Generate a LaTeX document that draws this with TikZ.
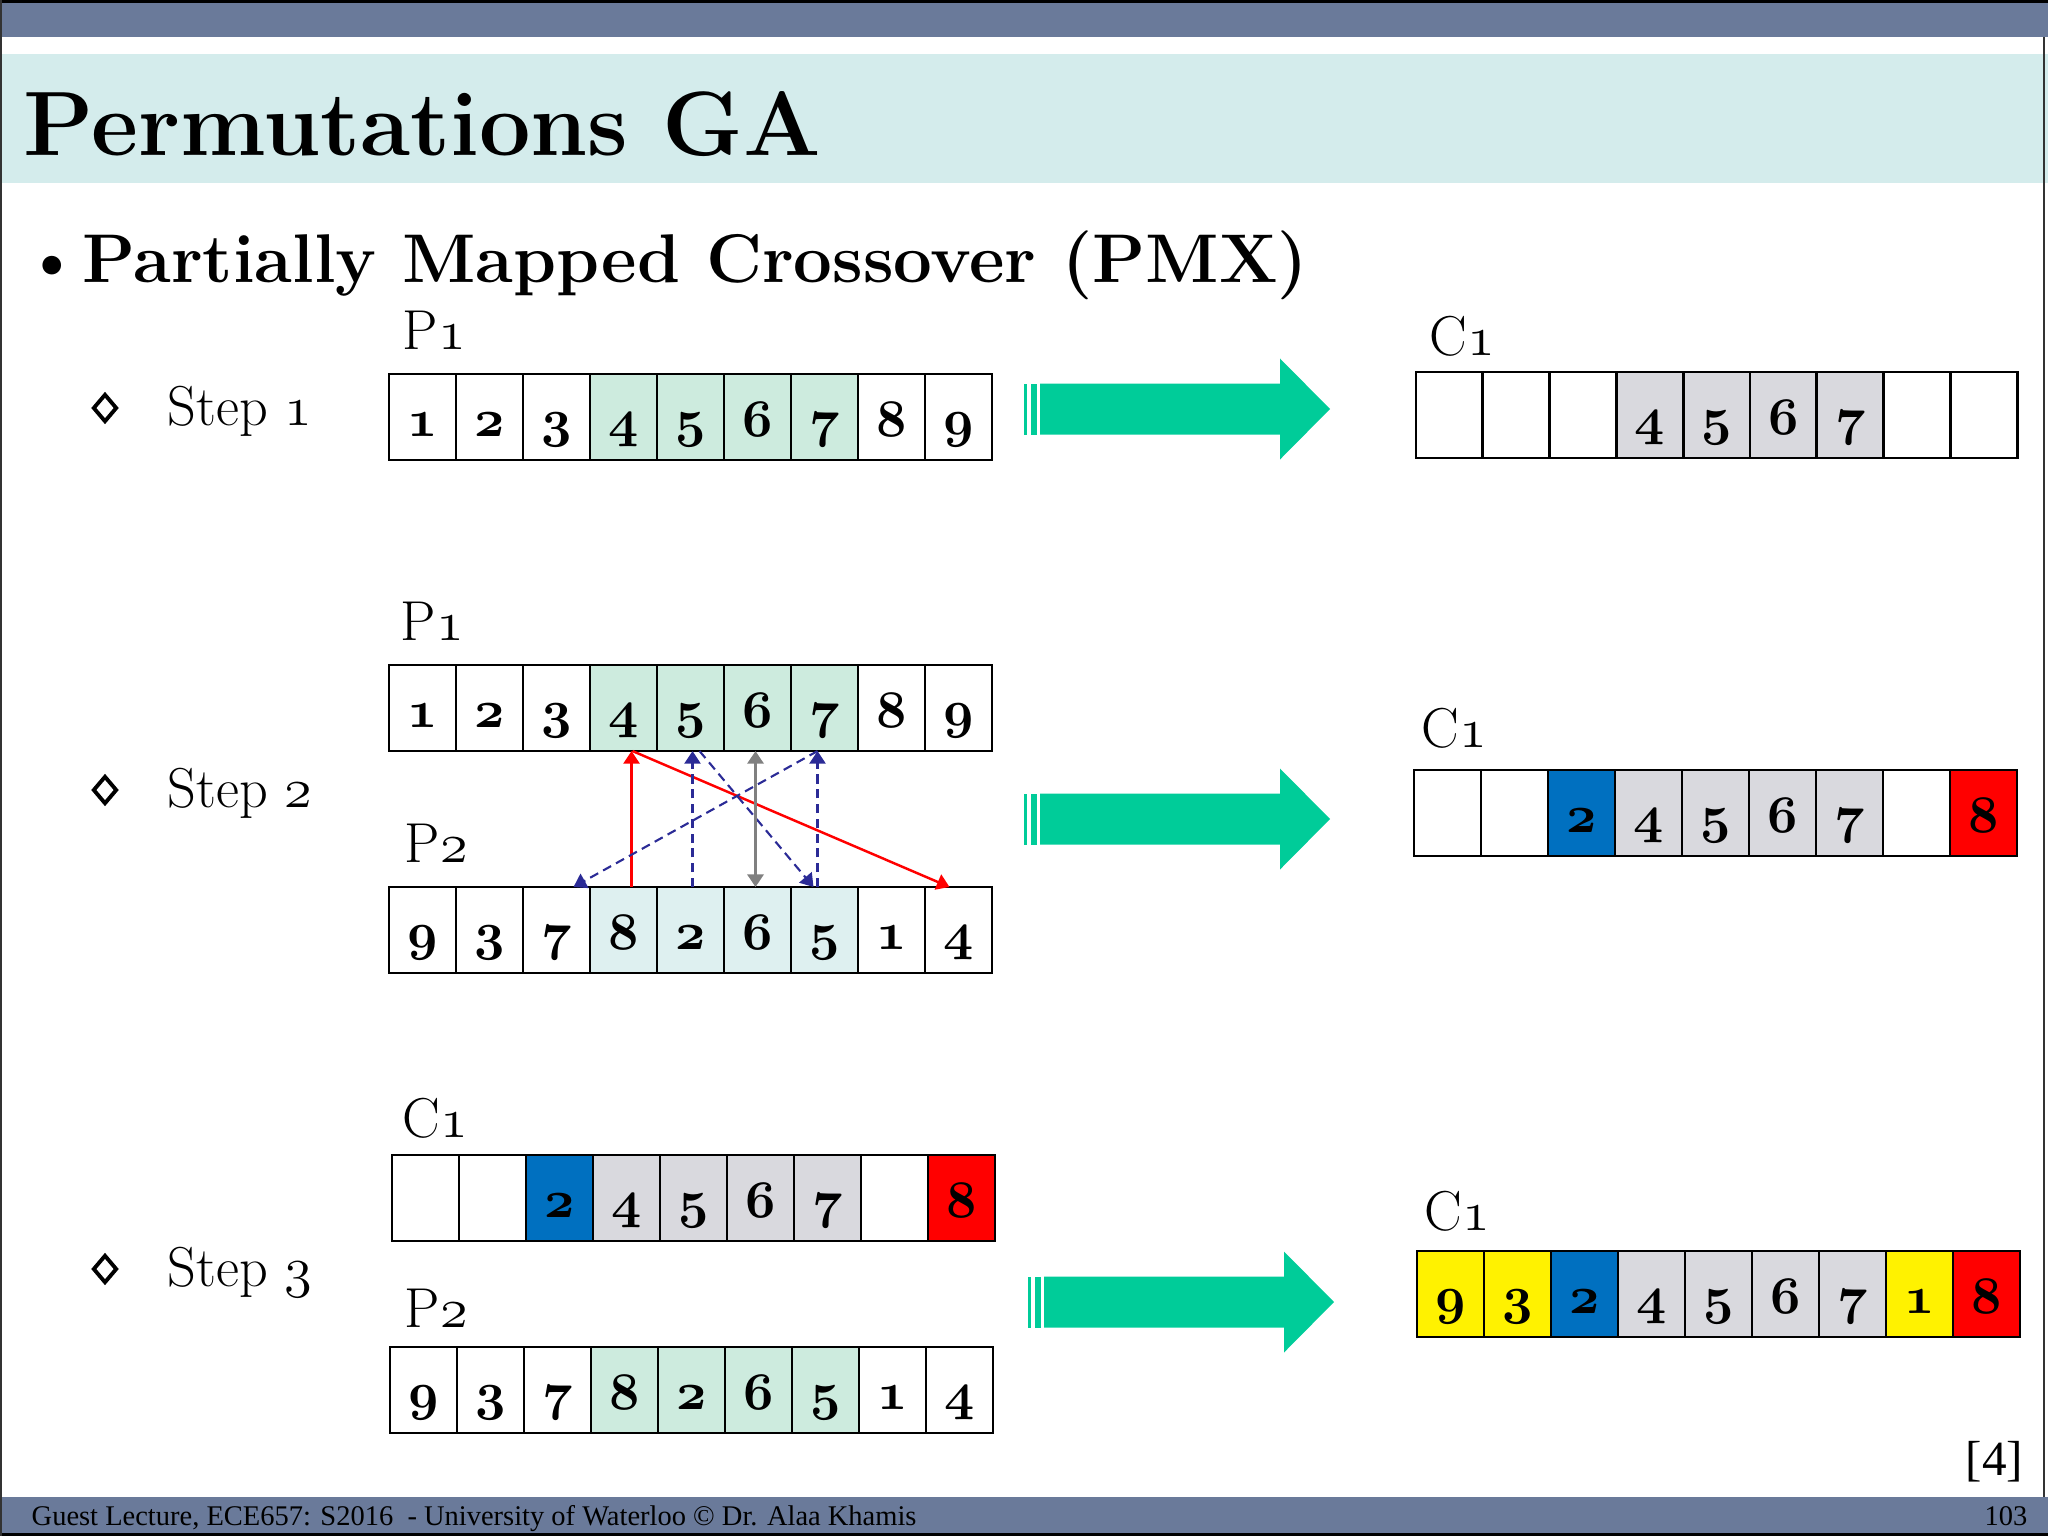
\RequirePackage{fix-cm}
\documentclass[tikz,border=0pt]{standalone}
\usepackage{fontspec}
\usetikzlibrary{positioning, arrows.meta, shapes.geometric, calc}
\newfontfamily\footfont{Liberation Serif}
% old style figures from the math font
\newcommand{\osn}[1]{{\fontencoding{OML}\fontfamily{cmm}\fontseries{m}\fontshape{it}\selectfont#1}}
\newcommand{\osb}[1]{{\fontencoding{OML}\fontfamily{cmm}\fontseries{b}\fontshape{it}\selectfont#1}}
\definecolor{barblue}{RGB}{106,122,154}
\definecolor{band}{RGB}{212,236,236}
\definecolor{pgreen}{RGB}{205,235,222}
\definecolor{pcyan}{RGB}{222,240,240}
\definecolor{cgray}{RGB}{217,217,222}
\definecolor{cblue}{RGB}{0,112,192}
\definecolor{arrgreen}{RGB}{0,204,153}
\definecolor{navy}{RGB}{43,43,150}

\begin{document}
\begin{tikzpicture}[
    x=0.01cm, y=-0.01cm,
    cell/.style={draw, line width=0.8pt, anchor=north west, minimum width=0.67cm, minimum height=0.86cm,
      inner sep=0pt, outer sep=0pt, font=\fontsize{15}{16}\selectfont, text height=10.8pt, text depth=0pt},
    lbl/.style={anchor=base west, inner sep=0pt, font=\fontsize{16}{19}\selectfont},
    dmd/.style={diamond, draw, line width=1.1pt, minimum width=0.24cm, minimum height=0.28cm, inner sep=0pt},
    redarr/.style={red, line width=0.7pt, -{Triangle[length=3.6pt,width=4.6pt]}},
    bluearr/.style={navy, line width=0.6pt, dash pattern=on 2.6pt off 1.6pt, -{Triangle[length=3.6pt,width=4.6pt]}},
    grayarr/.style={gray, line width=0.8pt, {Triangle[length=3.6pt,width=4.6pt]}-{Triangle[length=3.6pt,width=4.6pt]}}
  ]
  \useasboundingbox (0,0) rectangle (2048,1536);

  % slide frame
  \fill[black] (0,0) rectangle (2048,3);
  \fill[barblue] (0,3) rectangle (2048,37);
  \fill[band] (0,54) rectangle (2048,183);
  \fill[barblue] (0,1497) rectangle (2048,1533);
  \fill[black] (0,1533) rectangle (2048,1536);
  \draw[black!80, line width=0.6pt] (1,0) -- (1,1536);
  \draw[black!80, line width=0.6pt] (2044,37) -- (2044,1497);

  % heading
  \node[anchor=base west, inner sep=0pt, font=\fontsize{26}{30}\selectfont\bfseries] (title) at (23,155) {Permutations GA};
  \node[anchor=base west, inner sep=0pt, font=\fontsize{18}{24}\selectfont\bfseries] (dot) at (24,280) {\textbullet};
  \node[anchor=base west, inner sep=0pt, font=\fontsize{19.6}{24}\selectfont\bfseries] (bullet) at (82,282)
    {Partially Mapped Crossover (PMX)};

  % steps
  \node[dmd] (d1) at (105,408) {};
  \node[dmd] (d2) at (105,790) {};
  \node[dmd] (d3) at (105,1269) {};
  \node[lbl] (step1) at (167,425) {Step \osn{1}};
  \node[lbl] (step2) at (167,807) {Step \osn{2}};
  \node[lbl] (step3) at (167,1286) {Step \osn{3}};

  % labels
  \node[lbl] (l1p) at (402,349) {P\osn{1}};
  \node[lbl] (l1c) at (1429,355) {C\osn{1}};
  \node[lbl] (l2p) at (400,640) {P\osn{1}};
  \node[lbl] (l2q) at (404,862) {P\osn{2}};
  \node[lbl] (l2c) at (1421,747) {C\osn{1}};
  \node[lbl] (l3c) at (402,1137) {C\osn{1}};
  \node[lbl] (l3q) at (404,1327) {P\osn{2}};
  \node[lbl] (l3r) at (1424,1230) {C\osn{1}};

  % step 1
  \foreach \v/\c [count=\i] in {1/white,2/white,3/white,4/pgreen,5/pgreen,6/pgreen,7/pgreen,8/white,9/white}
    \node[cell, fill=\c] (s1p\i) at ({389+67*(\i-1)},374) {\osb{\v}};
  \foreach \v/\c [count=\i] in {{}/white,{}/white,{}/white,4/cgray,5/cgray,6/cgray,7/cgray,{}/white,{}/white}
    \node[cell, fill=\c] (s1c\i) at ({1416+66.8*(\i-1)},372) {\osb{\v}};

  % step 2
  \foreach \v/\c [count=\i] in {1/white,2/white,3/white,4/pgreen,5/pgreen,6/pgreen,7/pgreen,8/white,9/white}
    \node[cell, fill=\c] (s2p\i) at ({389+67*(\i-1)},665) {\osb{\v}};
  \foreach \v/\c [count=\i] in {9/white,3/white,7/white,8/pcyan,2/pcyan,6/pcyan,5/pcyan,1/white,4/white}
    \node[cell, fill=\c] (s2q\i) at ({389+67*(\i-1)},887) {\osb{\v}};
  \foreach \v/\c [count=\i] in {{}/white,{}/white,2/cblue,4/cgray,5/cgray,6/cgray,7/cgray,{}/white,8/red}
    \node[cell, fill=\c] (s2c\i) at ({1414+67*(\i-1)},770) {\osb{\v}};

  % step 3
  \foreach \v/\c [count=\i] in {{}/white,{}/white,2/cblue,4/cgray,5/cgray,6/cgray,7/cgray,{}/white,8/red}
    \node[cell, fill=\c] (s3c\i) at ({392+67*(\i-1)},1155) {\osb{\v}};
  \foreach \v/\c [count=\i] in {9/white,3/white,7/white,8/pgreen,2/pgreen,6/pgreen,5/pgreen,1/white,4/white}
    \node[cell, fill=\c] (s3q\i) at ({390+67*(\i-1)},1347) {\osb{\v}};
  \foreach \v/\c [count=\i] in {9/yellow,3/yellow,2/cblue,4/cgray,5/cgray,6/cgray,7/cgray,1/yellow,8/red}
    \node[cell, fill=\c] (s3r\i) at ({1417+67*(\i-1)},1251) {\osb{\v}};

  % mapping arrows
  \draw[redarr] ($(s2q4.north)+(8,0)$) -- ($(s2p4.south)+(8,0)$);
  \draw[redarr] ($(s2p4.south)+(9,0)$) -- ($(s2q9.north)+(-9,0)$);
  \draw[bluearr] ($(s2q5.north)+(2,0)$) -- ($(s2p5.south)+(2,0)$);
  \draw[bluearr] ($(s2p5.south)+(9,0)$) -- ($(s2q7.north)+(-11,0)$);
  \draw[bluearr] ($(s2q7.north)+(-7,0)$) -- ($(s2p7.south)+(-7,0)$);
  \draw[bluearr] ($(s2p7.south)+(-7,0)$) -- ($(s2q3.north)+(17,0)$);
  \draw[grayarr] ($(s2p6.south)+(-2,0)$) -- ($(s2q6.north)+(-2,0)$);

  % big arrows
  \foreach \x/\y in {1024/409,1024/819,1028/1302} {
    \fill[arrgreen] ({\x},{\y-25.5}) rectangle ++(3,51);
    \fill[arrgreen] ({\x+6.7},{\y-25.5}) rectangle ++(6,51);
    \fill[arrgreen] ({\x+16},{\y-25.5}) -- ({\x+256},{\y-25.5}) -- ({\x+256},{\y-50.5}) -- ({\x+306},{\y})
      -- ({\x+256},{\y+50.5}) -- ({\x+256},{\y+25.5}) -- ({\x+16},{\y+25.5}) -- cycle;
  }

  % footer
  \node[anchor=base east, inner sep=0pt, font=\footfont\fontsize{14}{16}\selectfont] (cite) at (2024,1475) {[4]};
  \node[anchor=base west, inner sep=0pt, font=\footfont\fontsize{8.1}{9}\selectfont] (foot) at (31,1525)
    {Guest Lecture, ECE657: S2016\ \ - University of Waterloo \textcopyright\ Dr. Alaa Khamis};
  \node[anchor=base east, inner sep=0pt, font=\footfont\fontsize{8.1}{9}\selectfont] (page) at (2028,1525) {103};
\end{tikzpicture}
\end{document}
